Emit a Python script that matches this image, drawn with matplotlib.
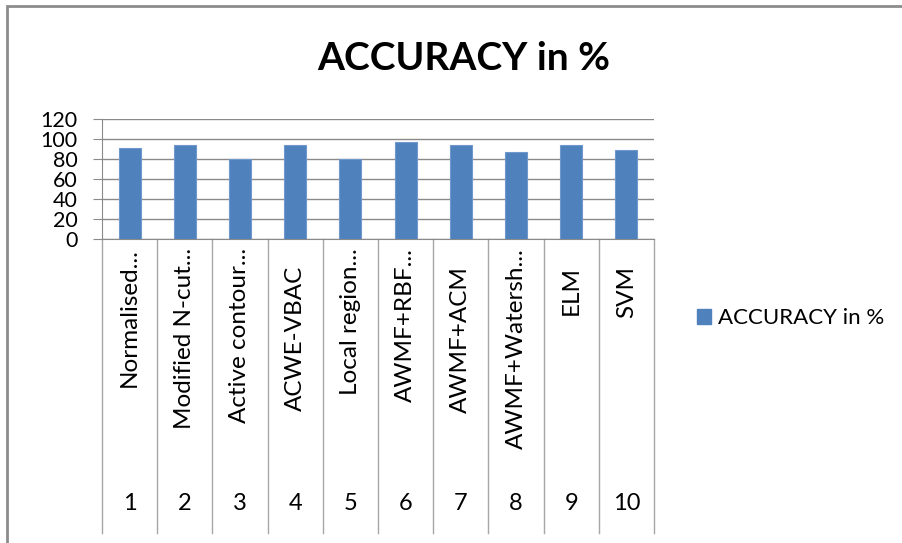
import matplotlib
matplotlib.use('Agg')
import matplotlib.pyplot as plt
from matplotlib.patches import Rectangle, Patch

plt.rcParams['font.family'] = ['Lato', 'DejaVu Sans']

# data
methods = ['Normalised...', 'Modified N-cut...', 'Active contour...', 'ACWE-VBAC',
           'Local region...', 'AWMF+RBF...', 'AWMF+ACM', 'AWMF+Watersh...', 'ELM', 'SVM']
numbers = ['1', '2', '3', '4', '5', '6', '7', '8', '9', '10']
accuracy = [91.3, 94, 80, 94, 80, 96.7, 94, 87.5, 94, 89]
yticks = [0, 20, 40, 60, 80, 100, 120]

W, H = 902, 543
fig = plt.figure(figsize=(W / 100, H / 100), dpi=100)

# outer chart border (only top and left visible in the reference)
fig.patches.append(Rectangle((7 / W, -0.2), 1.5, 1.2 - 6 / H, transform=fig.transFigure,
                             fill=False, ec='#8c8c8c', lw=2))

left, right, top, bottom = 102, 654, 119, 239
ax = fig.add_axes([left / W, 1 - bottom / H, (right - left) / W, (bottom - top) / H])

x = list(range(len(accuracy)))
ax.bar(x, accuracy, width=0.4, color='#4F81BD', edgecolor='#6f98cc', lw=0.8, zorder=3)

ax.set_xlim(-0.5, len(x) - 0.5)
ax.set_ylim(0, 120)
ax.set_yticks(yticks)
ax.set_yticklabels([str(v) for v in yticks], fontsize=15.5)
ax.yaxis.grid(True, color='#8a8a8a', lw=1)
ax.tick_params(axis='y', length=6.5, color='#8a8a8a', pad=11)
ax.set_xticks([])
for s in ['top', 'right']:
    ax.spines[s].set_visible(False)
for s in ['left', 'bottom']:
    ax.spines[s].set_color('#8a8a8a')

# category separators going down through the label area
sep_bottom = (bottom - 533) / (bottom - top)
for b in [i - 0.5 for i in range(len(x) + 1)]:
    ax.plot([b, b], [0, sep_bottom], transform=ax.get_xaxis_transform(),
            color='#a6a6a6', lw=1, clip_on=False)

for i, (m, n) in enumerate(zip(methods, numbers)):
    ytop = 248 if m.endswith('...') else 266
    ax.text(i, (bottom - ytop) / (bottom - top), m, rotation=90, ha='center', va='top',
            fontsize=17.5, transform=ax.get_xaxis_transform())
    ax.text(i, (bottom - 503) / (bottom - top), n, ha='center', va='center',
            fontsize=17, transform=ax.get_xaxis_transform())

fig.text(464 / W, 1 - 58 / H, 'ACCURACY in %', fontsize=28, fontweight='bold',
         ha='center', va='center')

leg = fig.legend(handles=[Patch(color='#4F81BD', label='ACCURACY in %')],
                 loc='center left', bbox_to_anchor=(697 / W, 1 - 318 / H),
                 frameon=False, fontsize=16, handlelength=0.65, handleheight=0.65,
                 handletextpad=0.3, borderpad=0, borderaxespad=0)

fig.savefig('out.png', dpi=100)
